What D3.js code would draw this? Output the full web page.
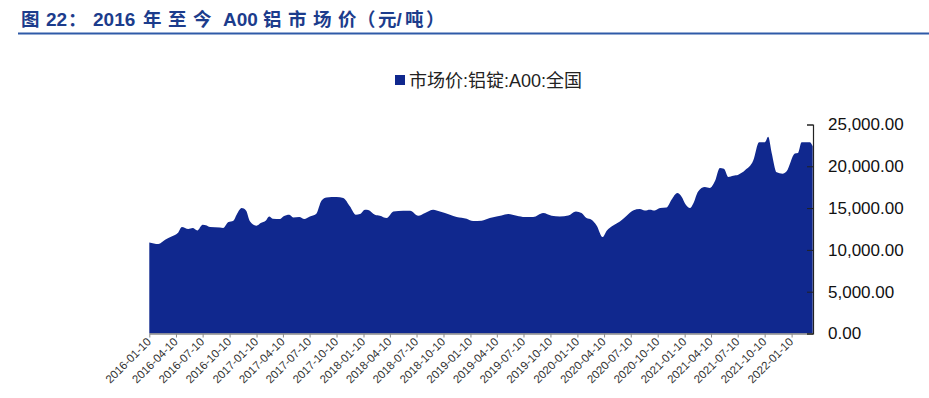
<!DOCTYPE html>
<html>
<head>
<meta charset="utf-8">
<script src="https://cdn.jsdelivr.net/npm/d3@7"></script>
<style>
  html, body { margin: 0; padding: 0; background: #fff; }
  svg { display: block; }
</style>
</head>
<body>
<div id="chart"></div>
<script>
/*
------------------------------
DATA: A00 aluminium spot price (yuan/ton)
------------------------------
*/
const dates = [
  "2016-01-10","2016-02-10","2016-03-04","2016-03-26","2016-04-18","2016-04-30","2016-05-22","2016-06-06",
  "2016-06-22","2016-07-10","2016-07-24","2016-08-04","2016-09-07","2016-09-18","2016-10-06","2016-10-23",
  "2016-11-03","2016-11-20","2016-12-05","2016-12-19","2017-01-10","2017-01-24","2017-02-11","2017-02-22",
  "2017-03-06","2017-03-31","2017-04-11","2017-05-02","2017-05-15","2017-06-05","2017-06-22","2017-07-11",
  "2017-08-01","2017-08-20","2017-09-06","2017-10-10","2017-11-02","2017-11-25","2017-12-15","2017-12-29",
  "2018-01-15","2018-01-26","2018-02-18","2018-03-07","2018-03-30","2018-04-22","2018-05-26","2018-06-18",
  "2018-07-16","2018-08-08","2018-09-05","2018-09-28","2018-11-01","2018-11-24","2018-12-28","2019-01-19",
  "2019-02-17","2019-03-17","2019-04-09","2019-04-26","2019-05-19","2019-06-17","2019-07-15","2019-08-12",
  "2019-09-15","2019-10-14","2019-11-11","2019-12-10","2020-01-05","2020-01-24","2020-02-10","2020-02-27",
  "2020-03-16","2020-04-05","2020-04-19","2020-05-11","2020-06-03","2020-06-26","2020-07-18","2020-08-10",
  "2020-08-27","2020-09-13","2020-09-30","2020-10-18","2020-11-09","2020-11-26","2020-12-16","2020-12-30",
  "2021-01-14","2021-01-28","2021-02-08","2021-02-25","2021-03-20","2021-04-06","2021-04-23","2021-05-10",
  "2021-05-24","2021-06-08","2021-06-25","2021-07-12","2021-08-04","2021-09-01","2021-09-21","2021-10-11",
  "2021-10-22","2021-11-03","2021-11-20","2021-12-10","2021-12-24","2022-01-21","2022-02-01","2022-02-13",
  "2022-03-13","2022-03-23"
];
const prices = [
  10890,10700,11210,11600,12090,12730,12490,12610,
  12330,13010,12920,12730,12690,12610,13330,13490,
  14210,15010,14720,13400,12890,13210,13520,14000,
  13730,13690,14000,14210,13890,13930,13690,14000,
  14290,15920,16280,16330,16210,15200,14210,14290,
  14810,14770,14210,14090,13810,14600,14690,14690,
  14090,14410,14810,14600,14210,13930,13730,13450,
  13490,13810,14000,14120,14290,14090,13930,13930,
  14410,14090,14000,14120,14600,14410,13810,13610,
  12890,11530,12290,12920,13400,14090,14720,14890,
  14720,14810,14720,15010,15080,16010,16810,16400,
  15410,15010,15530,17000,17530,17410,18200,19810,
  19720,18730,18880,19000,19520,20680,22880,22880,
  23520,21600,19280,19120,19400,21520,21600,22880,
  22880,22400
];
const xTickLabels = [
  "2016-01-10","2016-04-10","2016-07-10","2016-10-10","2017-01-10","2017-04-10","2017-07-10",
  "2017-10-10","2018-01-10","2018-04-10","2018-07-10","2018-10-10","2019-01-10","2019-04-10",
  "2019-07-10","2019-10-10","2020-01-10","2020-04-10","2020-07-10","2020-10-10","2021-01-10",
  "2021-04-10","2021-07-10","2021-10-10","2022-01-10"
];
const yTicks = [0, 5000, 10000, 15000, 20000, 25000];
const seriesName = "市场价:铝锭:A00:全国";
// title pieces and their left x (the source spaces the CJK glyphs widely)
const titleParts = [
  ["图", 21], ["22", 46], ["：", 68], ["2016", 93], ["年", 143], ["至", 168], ["今", 193],
  ["A00", 223], ["铝", 263], ["市", 288], ["场", 313], ["价", 338], ["（", 357], ["元", 378],
  ["/", 396.5], ["吨", 405], ["）", 426]
];

/*
------------------------------
METHOD: set the size of the canvas
------------------------------
*/
const width = 929;
const height = 398;
const margin = { top: 124.5, left: 149.3, right: 116, bottom: 64.5 };
const fillColor = "#10288e";

const parseDate = d3.timeParse("%Y-%m-%d");
const data = dates.map((d, i) => ({ date: parseDate(d), value: prices[i] }));

const svg = d3.select("#chart")
  .append("svg")
  .attr("width", width)
  .attr("height", height);

// title + rule under it
const title = svg.append("text")
  .attr("y", 26)
  .attr("font-family", "'Liberation Sans', 'Noto Sans CJK SC', sans-serif")
  .attr("font-weight", "bold")
  .attr("fill", "#1c3c8c");

title.selectAll("tspan")
  .data(titleParts)
  .enter()
  .append("tspan")
  .attr("x", d => d[1])
  .attr("font-size", d => /[0-9A-Z\/]/.test(d[0]) ? 19 : 18.5)
  .text(d => d[0]);

svg.append("line")
  .attr("x1", 18).attr("x2", width)
  .attr("y1", 33.5).attr("y2", 33.5)
  .attr("stroke", "#2f5aa8")
  .attr("stroke-width", 2);

/*
------------------------------
METHOD: scales
------------------------------
*/
const x = d3.scaleTime()
  .domain([parseDate("2016-01-10"), parseDate("2022-03-24")])
  .range([margin.left, width - margin.right]);

const y = d3.scaleLinear()
  .domain([0, 25000])
  .range([height - margin.bottom, margin.top]);

// area
const area = d3.area()
  .x(d => x(d.date))
  .y0(y(0))
  .y1(d => y(d.value))
  .curve(d3.curveMonotoneX);

svg.append("path")
  .datum(data)
  .attr("fill", fillColor)
  .attr("d", area);

// bottom axis
const xAxis = d3.axisBottom(x)
  .tickValues(xTickLabels.map(parseDate))
  .tickFormat(d3.timeFormat("%Y-%m-%d"))
  .tickSize(4)
  .tickSizeOuter(0);

const gx = svg.append("g")
  .attr("transform", `translate(0,${y(0)})`)
  .call(xAxis);
gx.select(".domain").attr("stroke", "#8a8a8a").attr("stroke-width", 1.5);
gx.selectAll(".tick line").attr("stroke", "#8a8a8a");
gx.selectAll(".tick text")
  .attr("font-family", "'Liberation Sans', Arial, sans-serif")
  .attr("font-size", 11.5)
  .attr("fill", "#333")
  .attr("text-anchor", "end")
  .attr("dy", null)
  .attr("transform", "translate(2,9) rotate(-45)")
  .attr("y", 0)
  .attr("x", 0);

// right axis
const yAxis = d3.axisRight(y)
  .tickValues(yTicks)
  .tickFormat(d3.format(",.2f"))
  .tickSize(-6)
  .tickSizeOuter(-6)
  .tickPadding(15);

const gy = svg.append("g")
  .attr("transform", `translate(${x.range()[1]},0)`)
  .call(yAxis);
gy.select(".domain").attr("stroke", "#222").attr("stroke-width", 1.2);
gy.selectAll(".tick line").attr("stroke", "#222");
gy.selectAll(".tick text")
  .attr("font-family", "'Liberation Sans', Arial, sans-serif")
  .attr("font-size", 17)
  .attr("fill", "#111");

// legend
const legend = svg.append("g").attr("transform", "translate(395,75)");
legend.append("rect")
  .attr("width", 10).attr("height", 10)
  .attr("fill", fillColor);
legend.append("text")
  .attr("x", 14)
  .attr("y", 12)
  .attr("font-family", "'Liberation Sans', 'Noto Sans CJK SC', sans-serif")
  .attr("font-size", 18)
  .attr("fill", "#222")
  .text(seriesName);
</script>
</body>
</html>
